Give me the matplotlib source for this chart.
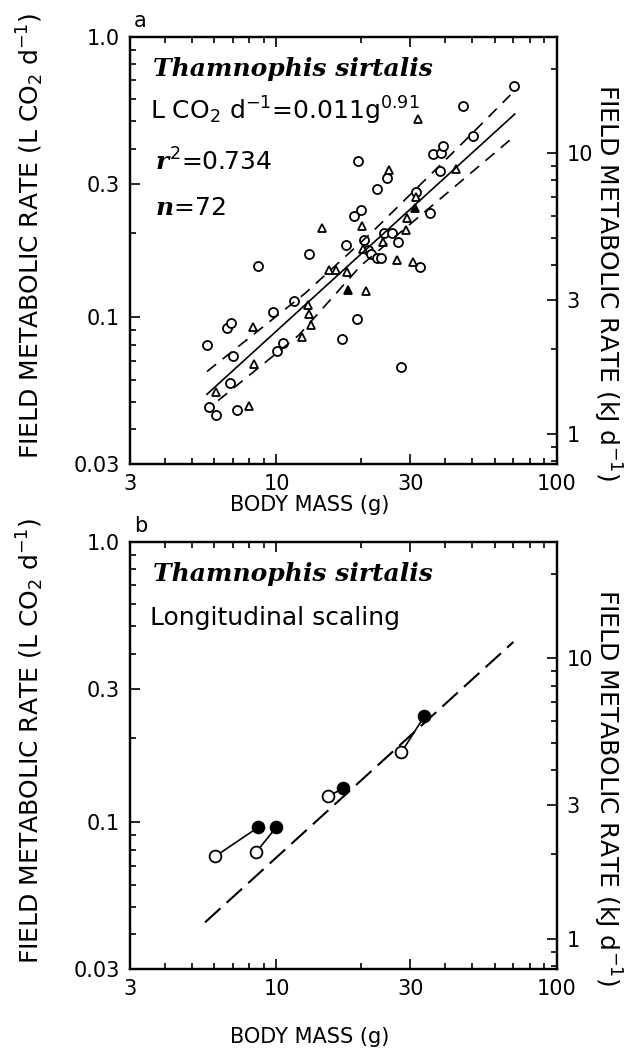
import numpy as np
import matplotlib
matplotlib.use("Agg")
import matplotlib.pyplot as plt
from matplotlib.ticker import LogLocator, NullFormatter

plt.rcParams['font.family'] = ['DejaVu Sans']
plt.rcParams['mathtext.fontset'] = 'custom'
plt.rcParams['mathtext.rm'] = 'DejaVu Sans'
plt.rcParams['mathtext.it'] = 'DejaVu Serif:italic:bold'
plt.rcParams['mathtext.default'] = 'regular'

# ---- panel a: field metabolic rate vs body mass ----
circ_mass = [5.65, 5.75, 6.08, 7.23, 6.66, 6.88, 6.83, 7.00, 9.73, 11.56,
             10.05, 10.56, 17.15, 13.07, 8.60, 17.72, 19.40, 20.55, 21.24, 21.77,
             22.87, 23.63, 27.19, 32.6, 35.4, 24.2, 25.9, 31.5, 70.6, 46.4,
             50.4, 36.2, 38.7, 39.4, 19.56, 24.8, 22.87, 38.4, 20.05, 18.93,
             27.9]
circ_fmr = [0.0794, 0.0477, 0.0450, 0.0469, 0.0913, 0.0952, 0.0581, 0.0726, 0.1042, 0.1141,
            0.0756, 0.0807, 0.0834, 0.1679, 0.1521, 0.1807, 0.0984, 0.1884, 0.1735, 0.1679,
            0.1625, 0.1625, 0.1853, 0.1509, 0.2351, 0.1995, 0.1995, 0.2795, 0.668, 0.567,
            0.443, 0.382, 0.385, 0.408, 0.3607, 0.3136, 0.2865, 0.3322, 0.2410, 0.2295,
            0.0663]
tri_mass = [6.08, 7.98, 8.32, 8.25, 12.35, 12.97, 13.07, 13.29, 14.55, 15.41,
            16.32, 17.87, 20.89, 24.03, 26.96, 30.74, 29.03, 25.24, 43.8, 32.0,
            20.21, 29.3, 31.5, 20.4]
tri_fmr = [0.0540, 0.0481, 0.0679, 0.0921, 0.0848, 0.1104, 0.1025, 0.0936, 0.2078, 0.1472,
           0.1472, 0.1448, 0.1239, 0.1853, 0.1598, 0.1572, 0.2044, 0.3350, 0.3378, 0.5096,
           0.2113, 0.2257, 0.2683, 0.1749]
trif_mass = [18.02, 31.3]
trif_fmr = [0.1249, 0.2450]

# fitted line: L CO2 d-1 = 0.011 g^0.91
fit_a = 0.011
fit_b = 0.91
fit_range = [5.65, 70.8]
# dashed confidence band
up_mass = [5.65, 12.65, 22.0, 45.3, 68.3]
up_fmr = [0.0641, 0.1218, 0.202, 0.411, 0.621]
lo_mass = [6.19, 12.0, 20.0, 40.0, 70.0]
lo_fmr = [0.0505, 0.0863, 0.153, 0.274, 0.439]

# ---- panel b: longitudinal scaling ----
b_open_mass = [6.04, 8.45, 15.29, 27.9]
b_open_fmr = [0.0756, 0.0781, 0.1239, 0.1778]
b_fill_mass = [8.60, 9.97, 17.30, 33.7]
b_fill_fmr = [0.0960, 0.0960, 0.1322, 0.2391]
b_dash_mass = [5.56, 70.0]
b_dash_fmr = [0.044, 0.44]

KJ_PER_L = 26.0

fig = plt.figure(figsize=(6.4, 10.61), dpi=100)
ax_a = fig.add_axes([0.203, 0.5627, 0.667, 0.4025])
ax_b = fig.add_axes([0.203, 0.0867, 0.667, 0.4025])

FS = 15
FT = 18


def setup(ax, tag, xlab_y, ylab_y, ylab2_y):
    ax.set_xscale('log')
    ax.set_yscale('log')
    ax.set_xlim(3, 100)
    ax.set_ylim(0.03, 1.0)
    ax.set_xticks([3, 10, 30, 100], labels=['3', '10', '30', '100'])
    ax.set_yticks([0.03, 0.1, 0.3, 1.0], labels=['0.03', '0.1', '0.3', '1.0'])
    ax.xaxis.set_minor_locator(LogLocator(subs=np.arange(2, 10)))
    ax.yaxis.set_minor_locator(LogLocator(subs=np.arange(2, 10)))
    ax.xaxis.set_minor_formatter(NullFormatter())
    ax.yaxis.set_minor_formatter(NullFormatter())
    ax.tick_params(which='both', direction='in', top=True, right=False,
                   labelsize=FS, width=1.2, pad=7)
    ax.tick_params(which='major', length=7)
    ax.tick_params(which='minor', length=4)
    for s in ax.spines.values():
        s.set_linewidth(1.6)
    ax.text(0.42, xlab_y, 'BODY MASS (g)', transform=ax.transAxes,
            ha='center', va='center', fontsize=FS)
    fig.text(0.047, ylab_y, 'FIELD METABOLIC RATE (L CO$_2$ d$^{-1}$)',
             rotation=90, ha='center', va='center', fontsize=FT)
    ax.text(0.01, 1.015, tag, transform=ax.transAxes, fontsize=FS,
            ha='left', va='bottom')

    ax2 = ax.twinx()
    ax2.set_yscale('log')
    ax2.set_ylim(0.03 * KJ_PER_L, 1.0 * KJ_PER_L)
    ax2.set_yticks([1, 3, 10], labels=['1', '3', '10'])
    ax2.yaxis.set_minor_locator(LogLocator(subs=np.arange(2, 10)))
    ax2.yaxis.set_minor_formatter(NullFormatter())
    ax2.tick_params(which='both', direction='in', labelsize=FS, width=1.2, pad=7)
    ax2.tick_params(which='major', length=7)
    ax2.tick_params(which='minor', length=4)
    for s in ax2.spines.values():
        s.set_linewidth(1.6)
    fig.text(0.948, ylab2_y, 'FIELD METABOLIC RATE (kJ d$^{-1}$)',
             rotation=270, ha='center', va='center', fontsize=FT)
    return ax2


setup(ax_a, 'a', -0.097, 0.7776, 0.7333)
setup(ax_b, 'b', -0.160, 0.3016, 0.2573)

# panel a marks
ax_a.plot(circ_mass, circ_fmr, 'o', mfc='white', mec='black', ms=6.5, mew=1.3)
ax_a.plot(tri_mass, tri_fmr, '^', mfc='white', mec='black', ms=6, mew=1.3)
ax_a.plot(trif_mass, trif_fmr, '^', mfc='black', mec='black', ms=6, mew=1.3)
fx = np.array(fit_range)
ax_a.plot(fx, fit_a * fx ** fit_b, '-', color='black', lw=1.2)
ax_a.plot(up_mass, up_fmr, color='black', lw=1.2, dashes=(7, 5))
ax_a.plot(lo_mass, lo_fmr, color='black', lw=1.2, dashes=(7, 5))

ax_a.text(0.054, 0.909, 'Thamnophis sirtalis', transform=ax_a.transAxes,
          family='DejaVu Serif', style='italic', weight='bold', fontsize=FT)
ax_a.text(0.047, 0.806, 'L CO$_2$ d$^{-1}$=0.011g$^{0.91}$', transform=ax_a.transAxes,
          fontsize=FT)
ax_a.text(0.059, 0.686, r'$\mathit{r}^{2}$=0.734', transform=ax_a.transAxes, fontsize=FT)
ax_a.text(0.059, 0.583, r'$\mathit{n}$=72', transform=ax_a.transAxes, fontsize=FT)

# panel b marks
for xo, yo, xf, yf in zip(b_open_mass, b_open_fmr, b_fill_mass, b_fill_fmr):
    ax_b.plot([xo, xf], [yo, yf], '-', color='black', lw=1.2, zorder=2)
ax_b.plot(b_dash_mass, b_dash_fmr, color='black', lw=1.5, dashes=(10, 4), zorder=1)
ax_b.plot(b_open_mass, b_open_fmr, 'o', mfc='white', mec='black', ms=8.5, mew=1.3, zorder=3)
ax_b.plot(b_fill_mass, b_fill_fmr, 'o', mfc='black', mec='black', ms=8.5, mew=1.3, zorder=3)

ax_b.text(0.054, 0.909, 'Thamnophis sirtalis', transform=ax_b.transAxes,
          family='DejaVu Serif', style='italic', weight='bold', fontsize=FT)
ax_b.text(0.047, 0.806, 'Longitudinal scaling', transform=ax_b.transAxes, fontsize=FT)

fig.savefig('out.png', dpi=100)
